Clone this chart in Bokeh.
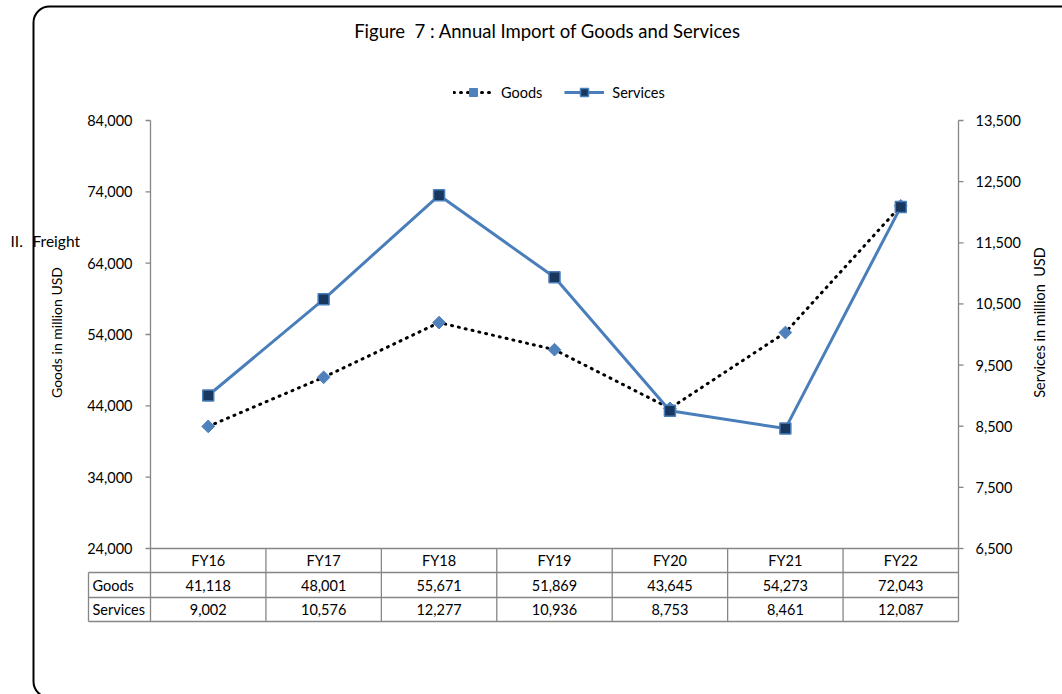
import math
from bokeh.plotting import figure
from bokeh.models import (Range1d, Label, Legend, LegendItem, BoxAnnotation, ColumnDataSource)
from bokeh.embed import file_html
from bokeh.resources import INLINE

# ---------------- data ----------------
categories = ["FY16", "FY17", "FY18", "FY19", "FY20", "FY21", "FY22"]
goods = [41118, 48001, 55671, 51869, 43645, 54273, 72043]
services = [9002, 10576, 12277, 10936, 8753, 8461, 12087]
goods_ticks = [24000, 34000, 44000, 54000, 64000, 74000, 84000]
services_ticks = [6500, 7500, 8500, 9500, 10500, 11500, 12500, 13500]
series_names = ["Goods", "Services"]
NB = "\u00a0"
title_text = f"Figure{NB}{NB}7 : Annual Import of Goods and Services"
left_label = "Goods in million USD"
right_label = f"Services in million{NB}{NB}USD"
stray_parts = ["II.", "Freight"]

# ---------------- geometry (page pixels) ----------------
FONT = "Lato"
W, H = 1062, 694
AX_L, AX_R = 150, 958          # page x of left / right axes
Y_TOP, Y_AXIS = 120, 548        # page y of top tick / category axis
CELL = (AX_R - AX_L) / len(categories)
ROW_TOP = [548, 572, 597]       # table row tops
ROW_BOT = 621
LABEL_COL = 88
AXC = "#868686"
TXT = "14.5px"


def xd(px):
    return (px - AX_L) / CELL


def yt(py):
    return H - py


g_per_px = (goods_ticks[-1] - goods_ticks[0]) / (Y_AXIS - Y_TOP)
s_per_px = (services_ticks[-1] - services_ticks[0]) / (Y_AXIS - Y_TOP)
goods_range = Range1d(goods_ticks[0] - (H - Y_AXIS) * g_per_px,
                      goods_ticks[-1] + Y_TOP * g_per_px)
services_range = Range1d(services_ticks[0] - (H - Y_AXIS) * s_per_px,
                         services_ticks[-1] + Y_TOP * s_per_px)
tbl_range = Range1d(0, H)

p = figure(width=W, height=H, output_backend="svg", toolbar_location=None,
           x_range=Range1d(xd(0), xd(W)), y_range=goods_range,
           x_axis_location=None, y_axis_location=None, min_border=0)
p.extra_y_ranges = {"right": services_range, "tbl": tbl_range}
p.outline_line_color = None
p.grid.visible = False
p.background_fill_color = "white"
p.border_fill_color = "white"

n = len(categories)
TICK = 5 / CELL

# ---------------- value axes (drawn through the scales) ----------------
p.segment([0], [goods_ticks[0]], [0], [goods_ticks[-1]], line_color=AXC, line_width=1.3)
p.segment([-TICK] * len(goods_ticks), goods_ticks, [0] * len(goods_ticks), goods_ticks,
          line_color=AXC, line_width=1.3)
p.text([0] * len(goods_ticks), goods_ticks, [f"{v:,}" for v in goods_ticks],
       x_offset=-18, text_align="right", text_baseline="middle",
       text_font={"value": FONT}, text_font_size=TXT, text_color="black")
p.segment([n], [services_ticks[0]], [n], [services_ticks[-1]], y_range_name="right",
          line_color=AXC, line_width=1.3)
p.segment([n] * len(services_ticks), services_ticks, [n + TICK] * len(services_ticks),
          services_ticks, y_range_name="right", line_color=AXC, line_width=1.3)
p.text([n] * len(services_ticks), services_ticks, [f"{v:,}" for v in services_ticks],
       y_range_name="right", x_offset=17, text_align="left", text_baseline="middle",
       text_font={"value": FONT}, text_font_size=TXT, text_color="black")

# ---------------- series ----------------
xs = [i + 0.5 for i in range(n)]
src = ColumnDataSource(dict(x=xs, goods=goods, services=services,
                            ang=[math.pi / 4] * n))
gl = p.line("x", "goods", source=src, line_color="black", line_width=3,
            line_dash="1 6", line_cap="round")
gm = p.scatter("x", "goods", source=src, marker="square", angle="ang", size=9,
               fill_color="#4F81BD", line_color="#4F81BD")
sl = p.line("x", "services", source=src, y_range_name="right", line_color="#4A7EBB",
            line_width=3)
sm = p.scatter("x", "services", source=src, y_range_name="right", marker="square", size=11,
               fill_color="#17375E", line_color="#4A7EBB", line_width=1.5)

# ---------------- data table ----------------
x0s, x1s, y0s, y1s = [], [], [], []
x0s.append(0); x1s.append(n); y0s.append(yt(ROW_TOP[0])); y1s.append(yt(ROW_TOP[0]))
for py in ROW_TOP[1:] + [ROW_BOT]:
    x0s.append(xd(LABEL_COL)); x1s.append(n); y0s.append(yt(py)); y1s.append(yt(py))
for i in range(n + 1):
    x0s.append(i); x1s.append(i); y0s.append(yt(ROW_TOP[0])); y1s.append(yt(ROW_BOT))
x0s.append(xd(LABEL_COL)); x1s.append(xd(LABEL_COL))
y0s.append(yt(ROW_TOP[1])); y1s.append(yt(ROW_BOT))
p.segment(x0s, y0s, x1s, y1s, y_range_name="tbl", line_color=AXC, line_width=1.3)

row_mid = [(ROW_TOP[0] + ROW_TOP[1]) / 2, (ROW_TOP[1] + ROW_TOP[2]) / 2,
           (ROW_TOP[2] + ROW_BOT) / 2]
tsrc = ColumnDataSource(dict(
    x=xs * 3,
    y=[yt(row_mid[0])] * n + [yt(row_mid[1])] * n + [yt(row_mid[2])] * n,
    t=categories + [f"{v:,}" for v in goods] + [f"{v:,}" for v in services]))
p.text("x", "y", "t", source=tsrc, y_range_name="tbl", text_align="center",
       text_baseline="middle", text_font={"value": FONT}, text_font_size=TXT,
       text_color="black")
p.text([xd(LABEL_COL + 4)] * 2, [yt(row_mid[1]), yt(row_mid[2])], series_names,
       y_range_name="tbl", text_align="left", text_baseline="middle",
       text_font={"value": FONT}, text_font_size=TXT, text_color="black")

# ---------------- legend ----------------
legend = Legend(items=[LegendItem(label=series_names[0], renderers=[gl, gm]),
                       LegendItem(label=series_names[1], renderers=[sl, sm])],
                orientation="horizontal", location=(453, H - 102),
                glyph_width=40, glyph_height=20, label_standoff=8, spacing=22,
                padding=0, margin=0, border_line_color=None, background_fill_alpha=0,
                label_text_font=FONT, label_text_font_size=TXT,
                label_text_color="black")
p.add_layout(legend)

# ---------------- texts ----------------
p.add_layout(Label(x=xd(547), y=yt(30), y_range_name="tbl", text=title_text,
                   text_align="center", text_baseline="middle", text_font=FONT,
                   text_font_size="18.5px", text_color="black"))
p.add_layout(Label(x=xd(56), y=yt(332), y_range_name="tbl", text=left_label,
                   angle=math.pi / 2, text_align="center", text_baseline="middle",
                   text_font=FONT, text_font_size="14px", text_color="black"))
p.add_layout(Label(x=xd(1039), y=yt(322), y_range_name="tbl", text=right_label,
                   angle=math.pi / 2, text_align="center", text_baseline="middle",
                   text_font=FONT, text_font_size="14.5px", text_color="black"))
p.add_layout(Label(x=xd(10), y=yt(240), y_range_name="tbl", text=stray_parts[0],
                   text_align="left", text_baseline="middle", text_font=FONT,
                   text_font_size="15.5px", text_color="black"))
p.add_layout(Label(x=xd(32), y=yt(240), y_range_name="tbl", text=stray_parts[1],
                   text_align="left", text_baseline="middle", text_font=FONT,
                   text_font_size="15.5px", text_color="black"))

# ---------------- rounded frame ----------------
p.add_layout(BoxAnnotation(left=xd(33), right=xd(1120), top=yt(6), bottom=yt(697),
                           y_range_name="tbl", fill_alpha=0, line_color="black",
                           line_alpha=1, line_width=2, border_radius=16))

open("out.html", "w").write(file_html(p, INLINE))
